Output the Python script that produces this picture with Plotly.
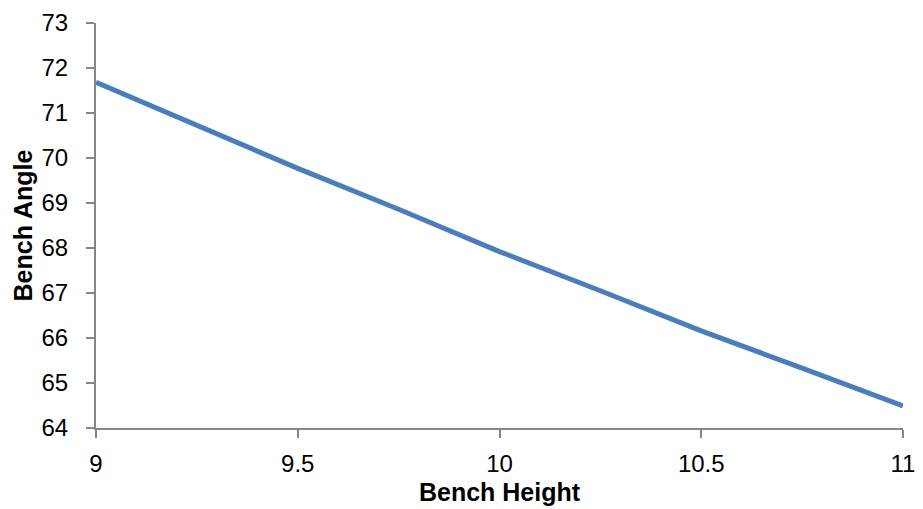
import plotly.graph_objects as go

bench_height = [9.0, 9.25, 9.5, 9.75, 10.0, 10.25, 10.5, 10.75, 11.0]
bench_angle = [71.68, 70.71, 69.77, 68.86, 67.92, 67.05, 66.16, 65.33, 64.49]

x_ticks = [9, 9.5, 10, 10.5, 11]
x_tick_labels = ["9", "9.5", "10", "10.5", "11"]
y_ticks = [64, 65, 66, 67, 68, 69, 70, 71, 72, 73]

FONT = "Liberation Sans, Arial"

fig = go.Figure()
fig.add_trace(go.Scatter(
    x=bench_height, y=bench_angle, mode="lines",
    line=dict(color="#4a7ebb", width=5), showlegend=False,
))

axis_common = dict(
    showgrid=False, zeroline=False, showline=True, linecolor="#868686", linewidth=2,
    ticks="outside", tickcolor="#868686", ticklen=8, tickwidth=2, automargin=False,
    tickfont=dict(family=FONT, size=24, color="#000000"),
)

# page body has an 8px default margin, so the figure is sized/offset to compensate
fig.update_layout(
    width=915, height=501,
    margin=dict(l=88, r=20, t=15, b=81),
    plot_bgcolor="white", paper_bgcolor="white",
    xaxis=dict(range=[9, 11], tickvals=x_ticks, ticktext=x_tick_labels, ticklabelstandoff=5,
               title=dict(text="<b>Bench Height</b>", standoff=8,
                          font=dict(family=FONT, size=25, color="#000000")),
               **axis_common),
    yaxis=dict(range=[64, 73], tickvals=y_ticks, ticklabelstandoff=13,
               title=dict(text="<b>Bench Angle</b>", standoff=2,
                          font=dict(family=FONT, size=25, color="#000000")),
               **axis_common),
)

fig.write_html("out.html")
